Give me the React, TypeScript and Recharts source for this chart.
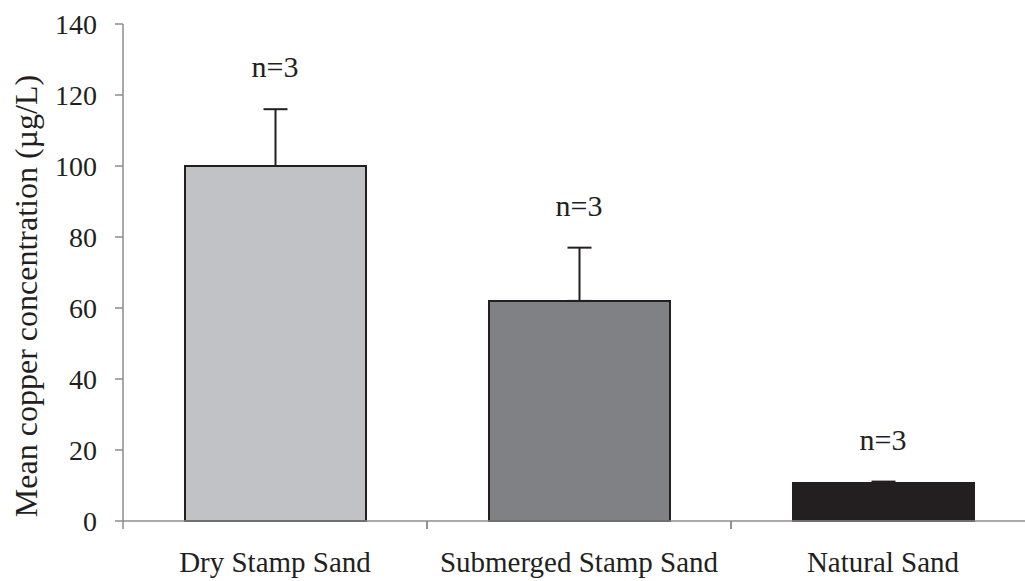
import { ComposedChart, Bar, Line, XAxis, YAxis, ErrorBar, Cell, LabelList } from "recharts"

const categories = ["Dry Stamp Sand", "Submerged Stamp Sand", "Natural Sand"]
const means = [100, 62, 10.7]
const sds = [16, 15, 0.4]
const sampleSizes = [3, 3, 3]
const barColors = ["#c1c2c6", "#808185", "#231f20"]
const yTicks = [0, 20, 40, 60, 80, 100, 120, 140]

const FONT = "'Liberation Serif', 'Times New Roman', serif"
const INK = "#231f20"
const AXIS = "#8c8c8c"

const CHART_W = 1040
const CHART_H = 581
const MARGIN = { top: 24, right: 5, left: 0, bottom: 0 }
const Y_AXIS_W = 123
// width of one category band, used for the boundary tick marks
const BAND = (CHART_W - MARGIN.left - MARGIN.right - Y_AXIS_W) / categories.length

// label sits a little above the top of each error bar
const LABEL_GAP = 9

const data = categories.map((name, i) => ({
  name,
  mean: means[i],
  err: [0, sds[i]],
  labelPos: means[i] + sds[i] + LABEL_GAP,
  n: `n=${sampleSizes[i]}`,
}))

function NLabel(props: any) {
  const { x, y, value } = props
  return (
    <text x={x} y={y} textAnchor="middle" fontSize={30} fontFamily={FONT} fill={INK}>
      {value}
    </text>
  )
}

// category label plus an Excel-style tick on the left edge of its band
function CatTick(props: any) {
  const { x, y, payload } = props
  const left = x - BAND / 2
  return (
    <g>
      <line x1={left} x2={left} y1={y} y2={y + 8} stroke={AXIS} strokeWidth={1.5} />
      <line x1={left + BAND} x2={left + BAND} y1={y} y2={y + 8} stroke={AXIS} strokeWidth={1.5} />
      <text x={x} y={y + 51} textAnchor="middle" fontSize={29} fontFamily={FONT} fill={INK}>
        {payload.value}
      </text>
    </g>
  )
}

export default function App() {
  return (
    <div style={{ position: "absolute", left: 0, top: 0, width: 1025, height: 581, overflow: "hidden", background: "#fff" }}>
      <ComposedChart width={CHART_W} height={CHART_H} data={data} margin={MARGIN}>
        <XAxis
          dataKey="name"
          stroke={AXIS}
          strokeWidth={1.5}
          tickLine={false}
          tickSize={0}
          tickMargin={0}
          height={60}
          interval={0}
          tick={<CatTick />}
        />
        <YAxis
          domain={[0, 140]}
          ticks={yTicks}
          width={Y_AXIS_W}
          tickSize={8}
          tickMargin={18}
          stroke={AXIS}
          strokeWidth={1.5}
          tick={{ fontSize: 28, fill: INK, fontFamily: FONT }}
          label={{
            content: () => (
              <text transform="translate(37, 296) rotate(-90)" textAnchor="middle" fontSize={32} fontFamily={FONT} fill={INK}>
                Mean copper concentration (µg/L)
              </text>
            ),
          }}
        />
        <Bar dataKey="mean" barSize={181} stroke={INK} strokeWidth={2} isAnimationActive={false}>
          {data.map((_, i) => (
            <Cell key={i} fill={barColors[i]} />
          ))}
          <ErrorBar dataKey="err" width={12} stroke={INK} strokeWidth={2} direction="y" />
        </Bar>
        <Line dataKey="labelPos" stroke="none" dot={false} activeDot={false} isAnimationActive={false}>
          <LabelList dataKey="n" content={NLabel} />
        </Line>
      </ComposedChart>
    </div>
  )
}
